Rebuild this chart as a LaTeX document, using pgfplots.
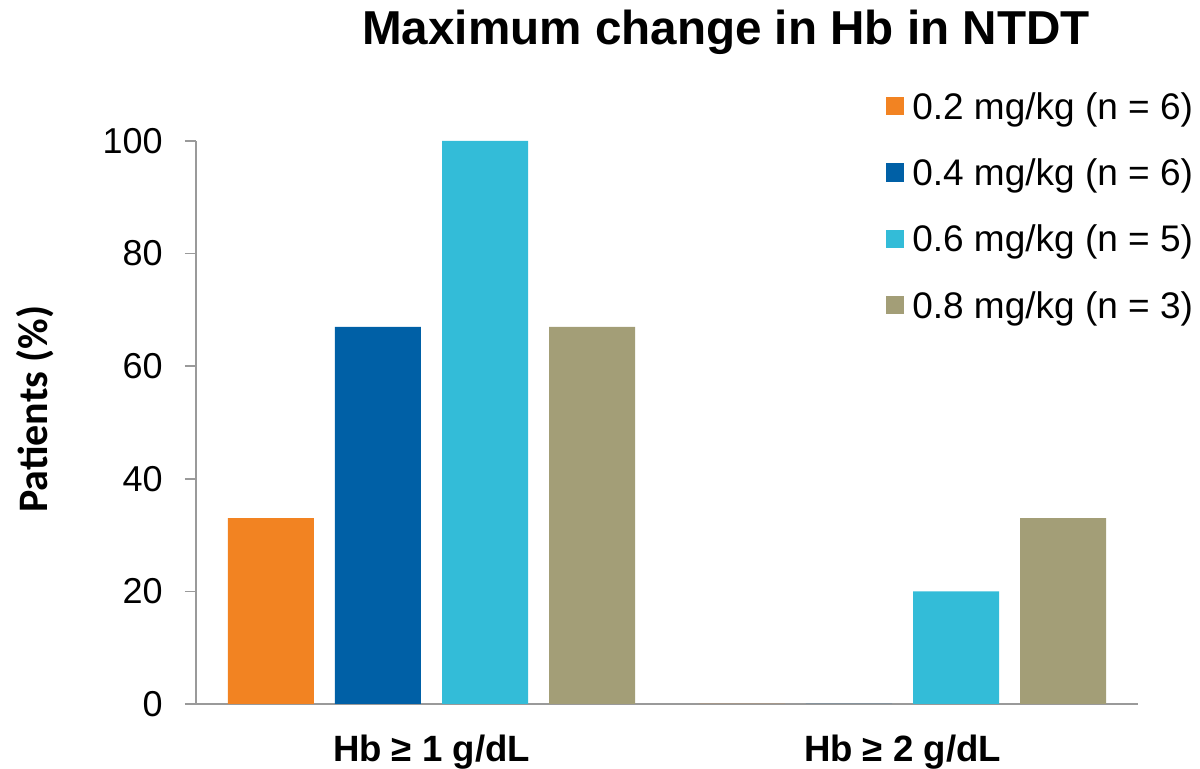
\documentclass[border=0pt]{standalone}
\usepackage{fontspec}
\setmainfont{Liberation Sans}
\newfontfamily\carlito{Carlito}
\usepackage{pgfplots}
\pgfplotsset{compat=1.18}

\definecolor{doseA}{HTML}{F28322}
\definecolor{doseB}{HTML}{0060A6}
\definecolor{doseC}{HTML}{33BCD8}
\definecolor{doseD}{HTML}{A39E77}
\definecolor{axisgray}{HTML}{9A9A9A}

\begin{document}
\begin{tikzpicture}
\useasboundingbox (-98pt,-32.5pt) rectangle (502pt,352pt);
\begin{axis}[
  at={(0,0)}, anchor=south west,
  scale only axis, width=471pt, height=281.5pt,
  xmin=-0.5, xmax=1.5, ymin=0, ymax=100,
  axis x line=bottom, axis y line=left,
  axis line style={-, draw=axisgray, line width=0.8pt},
  xtick={0,1},
  xticklabels={Hb ≥ 1 g/dL, Hb ≥ 2 g/dL},
  ytick={0,20,40,60,80,100},
  tick align=outside,
  major tick length=5.5pt,
  x tick style={draw=none},
  y tick style={draw=axisgray, line width=0.8pt},
  /pgf/number format/assume math mode=true,
  yticklabel style={font=\fontsize{18pt}{20pt}\selectfont, inner sep=0pt, anchor=east, xshift=-11pt},
  xticklabel style={font=\bfseries\fontsize{18.3pt}{20pt}\selectfont, inner sep=0pt, anchor=base, yshift=-23.5pt},
  title={Maximum change in Hb in NTDT},
  title style={font=\bfseries\fontsize{23.8pt}{26pt}\selectfont, inner sep=0pt, at={(0.5626,1.1497)}, anchor=base},
  ylabel={Patients (\%)},
  ylabel style={font=\carlito\bfseries\fontsize{21pt}{23pt}\selectfont, at={(-0.1709,0.524)}, anchor=center},
  legend cell align=left,
  legend image code/.code={\fill[#1, draw=none] (0pt,-3.07pt) rectangle (9.25pt,6.18pt);},
  legend style={draw=none, fill=none, inner sep=0pt, outer sep=0pt,
    at={(1.0584,1.0883)}, anchor=north east,
    font=\fontsize{18.5pt}{20pt}\selectfont,
    row sep=15.15pt,
    nodes={inner sep=0pt, text height=14pt, text depth=4pt},
    /tikz/every odd column/.append style={column sep=4pt}},
]
% group 1: Hb >= 1 g/dL, group 2: Hb >= 2 g/dL
\addplot[ybar, bar width=0.1826, bar shift=-0.3408, fill=doseA, draw=none] coordinates {(0,33) (1,0)};
\addplot[ybar, bar width=0.1826, bar shift=-0.1136, fill=doseB, draw=none] coordinates {(0,67) (1,0)};
\addplot[ybar, bar width=0.1826, bar shift=0.1136, fill=doseC, draw=none] coordinates {(0,100) (1,20)};
\addplot[ybar, bar width=0.1826, bar shift=0.3408, fill=doseD, draw=none] coordinates {(0,67) (1,33)};
\legend{0.2 mg/kg (n = 6), 0.4 mg/kg (n = 6), 0.6 mg/kg (n = 5), 0.8 mg/kg (n = 3)}
\end{axis}
\end{tikzpicture}
\end{document}
